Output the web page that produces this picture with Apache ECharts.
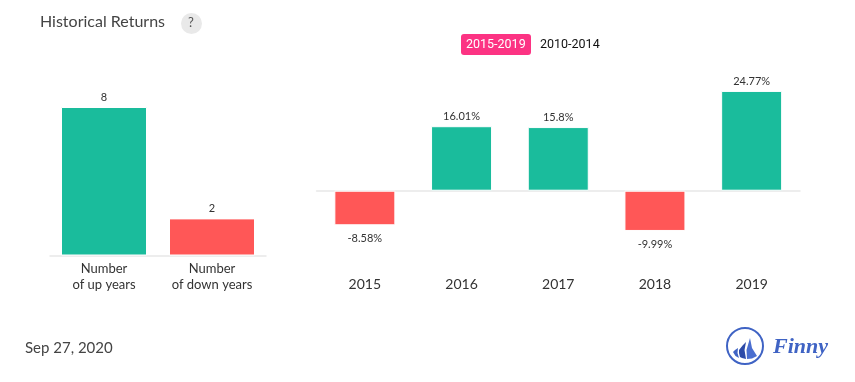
<!DOCTYPE html>
<html><head><meta charset="utf-8">
<style>html,body{margin:0;padding:0;background:#fff}#c{width:855px;height:382px}</style>
<script src="https://cdn.jsdelivr.net/npm/echarts@6/dist/echarts.min.js"></script>
</head><body><div id="c"></div>
<script>
const countCategories = ['Number\nof up years', 'Number\nof down years'];
const countValues = [8, 2];
const years = ['2015', '2016', '2017', '2018', '2019'];
const returns = [-8.58, 16.01, 15.8, -9.99, 24.77];
const titleText = 'Historical Returns';
const dateText = 'Sep 27, 2020';
const UP = '#1abc9c', DOWN = '#ff5757';

const chart = echarts.init(document.getElementById('c'), null, {renderer: 'canvas'});
const axisLine = {show: true, onZero: true, lineStyle: {color: '#e8e8e8', width: 1.5}};
const labelFont = {fontFamily: 'Lato', fontSize: 11, color: '#333'};
const bar = c => ({color: c, borderColor: '#fff', borderWidth: 1});
chart.setOption({
  animation: false,
  grid: [
    {left: 50, width: 216, top: 107, height: 148.5},
    {left: 316.5, width: 483.5, top: 90, height: 141}
  ],
  xAxis: [
    {gridIndex: 0, type: 'category', data: countCategories, axisLine, axisTick: {show: false},
     axisLabel: {fontFamily: 'Lato', fontSize: 13, color: '#333', lineHeight: 16, margin: 5, interval: 0}},
    {gridIndex: 1, type: 'category', data: years, axisLine, axisTick: {show: false},
     axisLabel: {fontFamily: 'Lato', fontSize: 14, color: '#333', margin: 46, interval: 0}}
  ],
  yAxis: [
    {gridIndex: 0, type: 'value', min: 0, max: 8, show: false},
    {gridIndex: 1, type: 'value', min: -10, max: 25, show: false}
  ],
  series: [
    {type: 'bar', xAxisIndex: 0, yAxisIndex: 0, barWidth: 86,
     data: countValues.map((v, i) => ({value: v, itemStyle: bar(i === 0 ? UP : DOWN)})),
     label: {show: true, position: 'top', distance: 4, ...labelFont}},
    {type: 'bar', xAxisIndex: 1, yAxisIndex: 1, barWidth: 61,
     data: returns.map(v => ({value: v, itemStyle: bar(v >= 0 ? UP : DOWN),
       label: {position: v >= 0 ? 'top' : 'bottom', distance: v >= 0 ? 4 : 8}})),
     label: {show: true, ...labelFont, formatter: p => p.value + '%'}}
  ],
  graphic: [
    {type: 'text', left: 40, top: 14, style: {text: titleText, fontFamily: 'Lato', fontSize: 16, fill: '#444'}},
    {type: 'circle', shape: {cx: 191.5, cy: 23.5, r: 10.5}, style: {fill: '#e9e9e9'}},
    {type: 'text', left: 188, top: 16, style: {text: '?', fontFamily: 'Lato', fontSize: 13, fill: '#555'}},
    {type: 'rect', shape: {x: 461, y: 34, width: 70, height: 21, r: 3}, style: {fill: '#fc3383'}},
    {type: 'text', left: 466, top: 38, style: {text: '2015-2019', fontFamily: 'Roboto', fontSize: 12.5, fill: '#fff'}},
    {type: 'text', left: 540, top: 38, style: {text: '2010-2014', fontFamily: 'Roboto', fontSize: 12.5, fill: '#111'}},
    {type: 'text', left: 25, top: 341, style: {text: dateText, fontFamily: 'Lato', fontSize: 15, fill: '#444'}},
    {type: 'circle', shape: {cx: 745, cy: 346, r: 18}, style: {fill: 'none', stroke: '#3f63c4', lineWidth: 2}},
    {type: 'polygon', shape: {points: [[733,352],[735,350],[738,348],[737.5,353],[739,358],[735.5,356]]}, style: {fill: '#3f63c4'}},
    {type: 'polygon', shape: {points: [[739,350],[743,345],[746,342],[744.5,350],[746,359],[742,358],[740,357],[739,353]]}, style: {fill: '#2c4aa8'}},
    {type: 'polygon', shape: {points: [[747,359],[746.5,350],[750,338],[752,348],[757,356],[752,358.5]]}, style: {fill: '#4a6ed0'}},
    {type: 'text', left: 773, top: 336, style: {text: 'Finny', fontFamily: 'Liberation Serif', fontStyle: 'italic', fontWeight: 'bold', fontSize: 22, fill: '#3f63c4'}}
  ]
});
</script></body></html>
